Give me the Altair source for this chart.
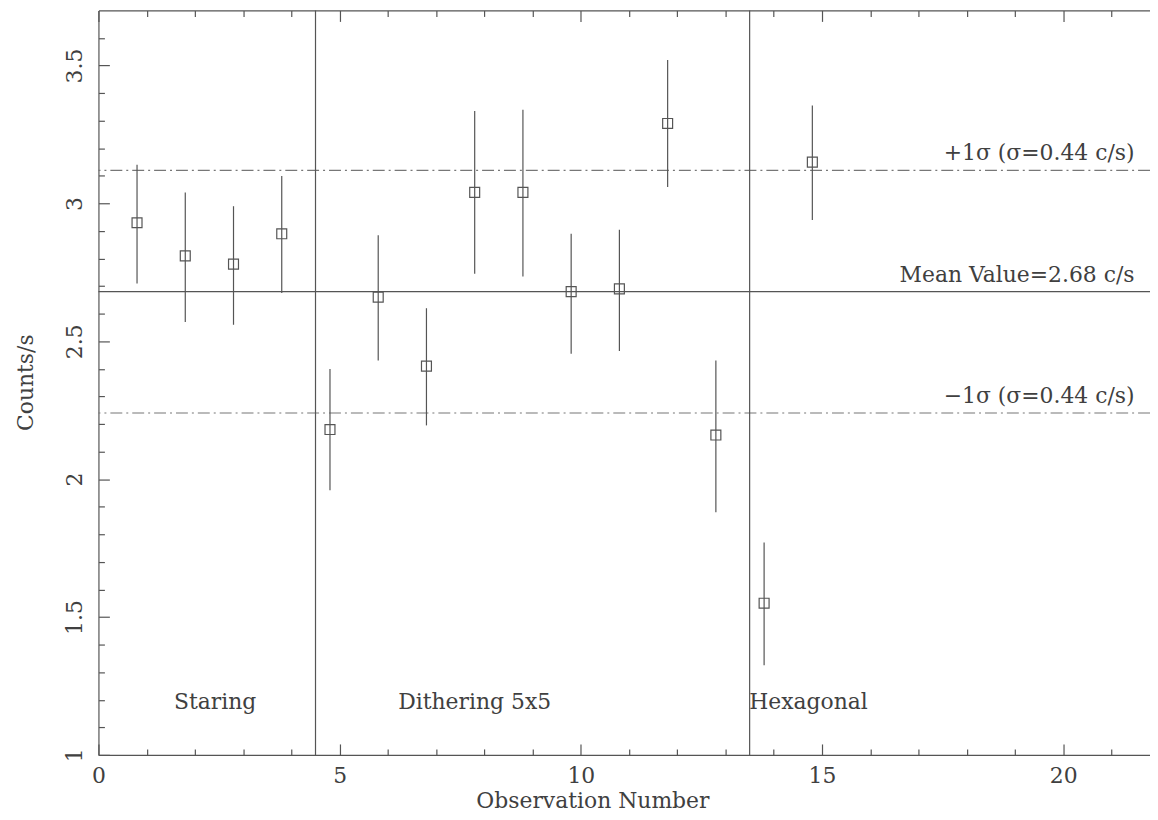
import altair as alt
import pandas as pd

# ---- data ----
obs_number = [0.8, 1.8, 2.8, 3.8, 4.8, 5.8, 6.8, 7.8, 8.8, 9.8, 10.8, 11.8, 12.8, 13.8, 14.8]
counts = [2.93, 2.81, 2.78, 2.89, 2.18, 2.66, 2.41, 3.04, 3.04, 2.68, 2.69, 3.29, 2.16, 1.55, 3.15]
counts_low = [2.71, 2.57, 2.56, 2.675, 1.96, 2.43, 2.195, 2.745, 2.735, 2.455, 2.465, 3.06, 1.88, 1.325, 2.94]
counts_high = [3.14, 3.04, 2.99, 3.10, 2.40, 2.885, 2.62, 3.335, 3.34, 2.89, 2.905, 3.52, 2.43, 1.77, 3.355]

mean_value = 2.68
sigma = 0.44
mode_bounds = [4.5, 13.5]
mode_names = ["Staring", "Dithering 5x5", "Hexagonal"]
mode_x = [2.42, 7.8, 14.72]
mode_y = [1.19, 1.19, 1.19]

line_labels = ["+1σ (σ=0.44 c/s)", "Mean Value=2.68 c/s", "−1σ (σ=0.44 c/s)"]
line_label_x = [21.48, 21.48, 21.48]

x_major = [0, 5, 10, 15, 20]
x_minor = [1, 2, 3, 4, 6, 7, 8, 9, 11, 12, 13, 14, 16, 17, 18, 19, 21]
y_major = [1, 1.5, 2, 2.5, 3, 3.5]
y_minor = [1.1, 1.2, 1.3, 1.4, 1.6, 1.7, 1.8, 1.9, 2.1, 2.2, 2.3, 2.4, 2.6, 2.7,
           2.8, 2.9, 3.1, 3.2, 3.3, 3.4, 3.6]

# ---- tables ----
pts = pd.DataFrame({"obs": obs_number, "counts": counts, "low": counts_low, "high": counts_high})
mean_df = pd.DataFrame({"v": [mean_value]})
sig_df = pd.DataFrame({"v": [mean_value + sigma, mean_value - sigma]})
bound_df = pd.DataFrame({"b": mode_bounds})
mode_df = pd.DataFrame({"name": mode_names, "x": mode_x, "y": mode_y})
lab_df = pd.DataFrame({"text": line_labels, "x": line_label_x,
                       "y": [mean_value + sigma, mean_value, mean_value - sigma]})

FONT = "DejaVu Serif"
GRAY = "#555555"
TXT = "#404040"
LW = 1.2

xs = alt.Scale(domain=[0, 21.8], nice=False, zero=False)
ys = alt.Scale(domain=[1, 3.7], nice=False, zero=False)

# ---- axes ----
tick_common = dict(labels=False, domain=False, grid=False, ticks=True,
                   tickColor=GRAY, tickWidth=LW, title=None)

x_label_axis = alt.Axis(orient="bottom", values=x_major, format="d", labelFont=FONT,
                        labelFontSize=22, labelColor=TXT, labelPadding=11, labelFlush=False,
                        ticks=False, tickSize=0, domain=True, domainColor=GRAY,
                        domainWidth=LW, grid=False, title="Observation Number",
                        titleFont=FONT, titleFontSize=22, titleFontWeight="normal",
                        titleColor=TXT, titleX=497, titleY=53,
                        titleBaseline="alphabetic", titleAlign="center")
x_top_axis = alt.Axis(orient="top", labels=False, ticks=False, tickSize=0, domain=True,
                      domainColor=GRAY, domainWidth=LW, grid=False, title=None)
x_bot_major = alt.Axis(orient="bottom", values=x_major, tickSize=11, offset=-11, **tick_common)
x_bot_minor = alt.Axis(orient="bottom", values=x_minor, tickSize=6, offset=-6, **tick_common)
x_top_major = alt.Axis(orient="top", values=x_major, tickSize=11, offset=-11, **tick_common)
x_top_minor = alt.Axis(orient="top", values=x_minor, tickSize=6, offset=-6, **tick_common)

y_label_axis = alt.Axis(orient="left", values=y_major, format="~g", labelFont=FONT,
                        labelFontSize=22, labelColor=TXT, labelAngle=270,
                        labelAlign="center", labelBaseline="alphabetic",
                        labelPadding=17, labelFlush=False, ticks=False, tickSize=0,
                        domain=True, domainColor=GRAY, domainWidth=LW, grid=False,
                        title="Counts/s", titleFont=FONT, titleFontSize=22,
                        titleFontWeight="normal", titleColor=TXT, titleAngle=270,
                        titleBaseline="alphabetic", titleAlign="center",
                        titleX=-66, titleY=374)
y_major_axis = alt.Axis(orient="left", values=y_major, tickSize=11, offset=-11, **tick_common)
y_minor_axis = alt.Axis(orient="left", values=y_minor, tickSize=6, offset=-6, **tick_common)


def carrier(xaxis, yaxis):
    return alt.Chart(pts).mark_point(opacity=0).encode(
        x=alt.X("obs:Q", scale=xs, axis=xaxis),
        y=alt.Y("counts:Q", scale=ys, axis=yaxis),
    )


axes_layers = [
    carrier(x_label_axis, y_label_axis),
    carrier(x_top_axis, y_major_axis),
    carrier(x_bot_major, y_minor_axis),
    carrier(x_bot_minor, None),
    carrier(x_top_major, None),
    carrier(x_top_minor, None),
]

# ---- marks ----
mean_line = alt.Chart(mean_df).mark_rule(color=GRAY, strokeWidth=LW).encode(
    y=alt.Y("v:Q", scale=ys, axis=None))
sig_lines = alt.Chart(sig_df).mark_rule(color="#777777", strokeWidth=LW,
                                        strokeDash=[12, 4, 2, 4]).encode(
    y=alt.Y("v:Q", scale=ys, axis=None))
bounds = alt.Chart(bound_df).mark_rule(color=GRAY, strokeWidth=LW).encode(
    x=alt.X("b:Q", scale=xs, axis=None))
errbars = alt.Chart(pts).mark_rule(color=GRAY, strokeWidth=LW).encode(
    x=alt.X("obs:Q", scale=xs, axis=None),
    y=alt.Y("low:Q", scale=ys, axis=None),
    y2="high:Q")
squares = alt.Chart(pts).mark_point(shape="square", filled=False, size=100,
                                    color=GRAY, strokeWidth=LW, opacity=1).encode(
    x=alt.X("obs:Q", scale=xs, axis=None),
    y=alt.Y("counts:Q", scale=ys, axis=None))
line_text = alt.Chart(lab_df).mark_text(font=FONT, fontSize=22, color=TXT, align="right",
                                        baseline="alphabetic", dy=-10).encode(
    x=alt.X("x:Q", scale=xs, axis=None),
    y=alt.Y("y:Q", scale=ys, axis=None),
    text="text:N")
mode_text = alt.Chart(mode_df).mark_text(font=FONT, fontSize=22, color=TXT, align="center",
                                         baseline="middle").encode(
    x=alt.X("x:Q", scale=xs, axis=None),
    y=alt.Y("y:Q", scale=ys, axis=None),
    text="name:N")

chart = alt.layer(
    *axes_layers, sig_lines, mean_line, bounds, errbars, squares, line_text, mode_text
).resolve_axis(x="independent", y="independent").properties(
    width=1058, height=749,
    padding={"left": 91, "top": 0, "right": 0, "bottom": 55},
    autosize=alt.AutoSizeParams(type="none"),
    background="white",
).configure_view(strokeWidth=0)

chart.save("out.html", embed_options={"renderer": "svg", "actions": False})
